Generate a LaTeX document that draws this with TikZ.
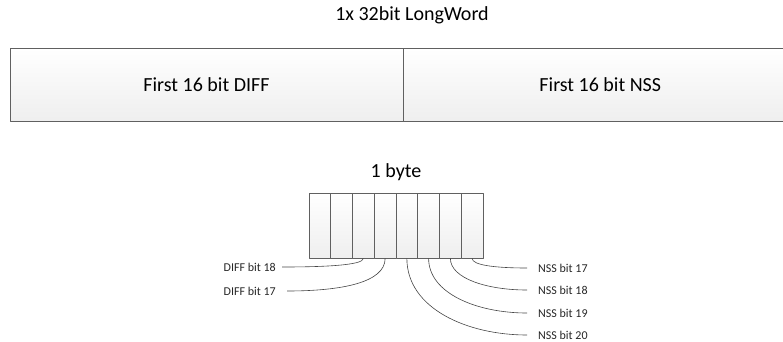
\documentclass[tikz,border=0pt]{standalone}
\usepackage{fontspec}
\setmainfont{Carlito}
\usepackage{tikz}
\usetikzlibrary{calc}
\usetikzlibrary{positioning}
\tikzset{
	wordbox/.style = {draw=gray!75!black, line width=0.8pt, top color=white, bottom color=gray!13,
		minimum width=393pt, minimum height=73pt, inner sep=0pt, font=\fontsize{20}{24}\selectfont},
	bitbox/.style = {draw=gray!75!black, line width=0.8pt, top color=white, bottom color=gray!13,
		minimum width=21.75pt, minimum height=65pt, inner sep=0pt}
	}

\begin{document}
\begin{tikzpicture}
		[x=1pt, y=-1pt,
		line join=round,
		wire/.style = {draw=gray!55!black, line width=0.6pt},
		lbl/.style = {font=\fontsize{12}{14}\selectfont, inner sep=0pt, text=black!85}
		]
		\useasboundingbox (0,0) rectangle (783,341);
		\clip (0,0) rectangle (783,341);

		\node[font=\fontsize{20}{24}\selectfont] (title) at (412,15) {1x 32bit LongWord};
		\node[wordbox] (diff) at (206.5,84.5) {First 16 bit DIFF};
		\node[wordbox, right=0pt of diff] (nss) {First 16 bit NSS};

		% the byte
		\foreach \i in {1,...,8}
			\node[bitbox] (c\i) at ({309+21.75*(\i-0.5)},225.5) {};
		\node[font=\fontsize{20}{24}\selectfont] (byte) at (396,172) {1 byte};

		% labels
		\node[lbl, anchor=east] (d18) at (276,267) {DIFF bit 18};
		\node[lbl, anchor=east] (d17) at (276,291) {DIFF bit 17};
		\node[lbl, anchor=west] (n17) at (538,268) {NSS bit 17};
		\node[lbl, anchor=west] (n18) at (538,290) {NSS bit 18};
		\node[lbl, anchor=west] (n19) at (538,313) {NSS bit 19};
		\node[lbl, anchor=west] (n20) at (538,335) {NSS bit 20};

		\draw[wire] (c3.south) .. controls +(0,7) and +(40,0) .. ($(d18.east)+(6,0)$);
		\draw[wire] (c4.south) .. controls +(0,24) and +(55,0) .. ($(d17.east)+(11,0)$);
		\draw[wire] (c8.south) .. controls +(0,7) and +(-30,0) .. ($(n17.west)+(-11,0)$);
		\draw[wire] (c7.south) .. controls +(0,20) and +(-40,0) .. ($(n18.west)+(-11,0)$);
		\draw[wire] (c6.south) .. controls +(0,35) and +(-50,0) .. ($(n19.west)+(-11,0)$);
		\draw[wire] (c5.south) .. controls +(0,50) and +(-60,0) .. ($(n20.west)+(-11,0)$);
	\end{tikzpicture}
\end{document}
